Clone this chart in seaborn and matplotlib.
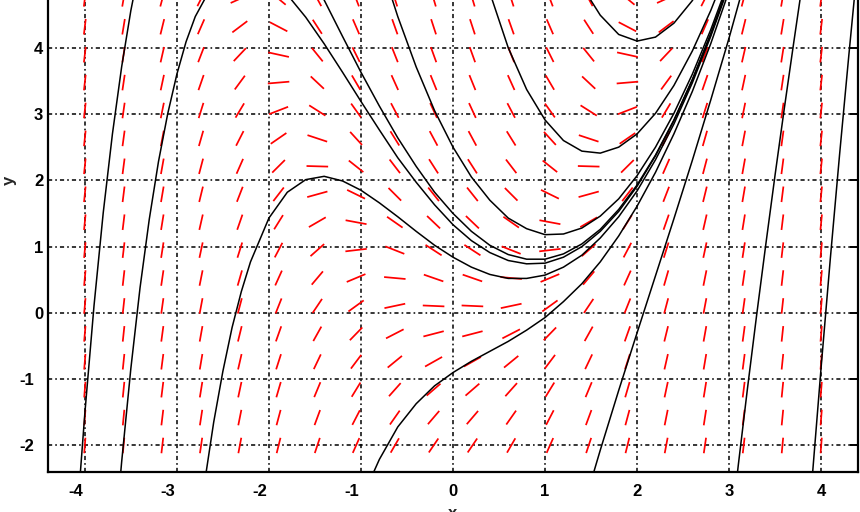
import numpy as np
import matplotlib
matplotlib.use("Agg")
import matplotlib.pyplot as plt
import seaborn as sns
from matplotlib.collections import LineCollection
from matplotlib.transforms import ScaledTranslation

## direction field for dy/dx = x^2 - y, sampled on a 20x20 grid
field_x = [-4.000, -3.579, -3.158, -2.737, -2.316, -1.895, -1.474, -1.053, -0.632, -0.211,
           0.211, 0.632, 1.053, 1.474, 1.895, 2.316, 2.737, 3.158, 3.579, 4.000]
field_y = [-2.000, -1.579, -1.158, -0.737, -0.316, 0.105, 0.526, 0.947, 1.368, 1.789,
           2.211, 2.632, 3.053, 3.474, 3.895, 4.316, 4.737, 5.158, 5.579, 6.000]

## solution curves
curve_a_x = [-4.06, -4.0, -3.9, -3.8, -3.7, -3.6, -3.5, -3.4, -3.0, -2.5, -2.0, -1.5, -1.4, -1.2,
             -1.0, -0.8, -0.6, -0.4, -0.2, 0.0, 0.2, 0.4, 0.6, 0.8, 1.0, 1.2, 1.4, 1.6, 1.8,
             2.0, 2.2, 2.4, 2.6, 2.8, 3.0]
curve_a_y = [-2.62, -1.52, 0.11, 1.51, 2.70, 3.71, 4.56, 5.26, 6.88, 7.11, 6.28, 4.99, 4.72, 4.17,
             3.63, 3.12, 2.64, 2.21, 1.82, 1.50, 1.23, 1.02, 0.88, 0.81, 0.81, 0.89, 1.04, 1.26, 1.56,
             1.93, 2.38, 2.91, 3.52, 4.21, 4.97]

curve_b_x = [-3.65, -3.6, -3.5, -3.4, -3.3, -3.2, -3.1, -3.0, -2.9, -2.8, -2.6, -2.4, -2.2, -2.0,
             -1.8, -1.6, -1.4, -1.2, -1.0, -0.8, -0.6, -0.4, -0.2, 0.0, 0.2, 0.4, 0.6, 0.8, 1.0,
             1.2, 1.4, 1.6, 1.8, 2.0, 2.2, 2.4, 2.6, 2.8, 3.0]
curve_b_y = [-3.04, -2.25, -0.84, 0.38, 1.41, 2.28, 3.00, 3.60, 4.09, 4.47, 4.98, 5.21, 5.22, 5.07,
             4.80, 4.46, 4.06, 3.63, 3.19, 2.76, 2.34, 1.97, 1.63, 1.33, 1.09, 0.91, 0.79, 0.74, 0.75,
             0.84, 1.00, 1.23, 1.53, 1.91, 2.37, 2.90, 3.51, 4.20, 4.97]

curve_c_x = [-2.75, -2.7, -2.6, -2.5, -2.4, -2.3, -2.2, -2.0, -1.8, -1.6, -1.4, -1.2, -1.0, -0.8,
             -0.6, -0.4, -0.2, 0.0, 0.2, 0.4, 0.6, 0.8, 1.0, 1.2, 1.4, 1.6, 1.8, 2.0, 2.2, 2.4,
             2.6, 2.8, 3.0]
curve_c_y = [-3.09, -2.57, -1.65, -0.88, -0.22, 0.32, 0.77, 1.43, 1.82, 2.01, 2.06, 1.99, 1.85, 1.66,
             1.45, 1.23, 1.02, 0.84, 0.69, 0.58, 0.52, 0.52, 0.57, 0.69, 0.87, 1.13, 1.45, 1.84, 2.31,
             2.85, 3.47, 4.17, 4.94]

curve_d_x = [-0.9, -0.8, -0.6, -0.4, -0.2, 0.0, 0.2, 0.4, 0.6, 0.8, 1.0, 1.2, 1.4, 1.6, 1.8, 2.0,
             2.2, 2.4, 2.6, 2.8, 3.0]
curve_d_y = [-2.52, -2.21, -1.72, -1.37, -1.10, -0.90, -0.73, -0.58, -0.43, -0.26, -0.07, 0.17, 0.44,
             0.77, 1.16, 1.61, 2.12, 2.70, 3.34, 4.06, 4.86]

curve_e_x = [-0.8, -0.7, -0.6, -0.4, -0.2, 0.0, 0.2, 0.4, 0.6, 0.8, 1.0, 1.2, 1.4, 1.6, 1.8, 2.0,
             2.2, 2.4, 2.6, 2.8, 3.0]
curve_e_y = [5.35, 4.90, 4.47, 3.71, 3.05, 2.50, 2.05, 1.70, 1.43, 1.27, 1.18, 1.19, 1.28, 1.46,
             1.72, 2.07, 2.50, 3.01, 3.60, 4.27, 5.02]

curve_f_x = [0.3, 0.4, 0.6, 0.8, 1.0, 1.2, 1.4, 1.6, 1.8, 2.0, 2.2, 2.4, 2.6, 2.8, 3.0]
curve_f_y = [5.33, 4.83, 4.00, 3.37, 2.91, 2.60, 2.44, 2.41, 2.50, 2.70, 3.01, 3.43, 3.95, 4.56, 5.26]

curve_g_x = [1.4, 1.5, 1.6, 1.8, 2.0, 2.2, 2.4, 2.6, 2.8]
curve_g_y = [4.98, 4.71, 4.49, 4.20, 4.10, 4.16, 4.37, 4.71, 5.18]

curve_h_x = [1.5, 1.6, 1.8, 2.0, 2.2, 2.4, 2.6, 2.8, 3.0, 3.2]
curve_h_y = [-2.54, -2.07, -1.17, -0.30, 0.56, 1.42, 2.30, 3.21, 4.15, 5.15]

curve_i_x = [3.05, 3.1, 3.2, 3.3, 3.4, 3.5, 3.6, 3.7, 3.8]
curve_i_y = [-2.90, -2.29, -1.13, -0.02, 1.05, 2.09, 3.09, 4.06, 5.01]

curve_j_x = [3.85, 3.9, 4.0, 4.1, 4.2, 4.3, 4.4]
curve_j_y = [-3.43, -2.53, -0.81, 0.83, 2.39, 3.88, 5.32]

curves = [(curve_a_x, curve_a_y), (curve_b_x, curve_b_y), (curve_c_x, curve_c_y),
          (curve_d_x, curve_d_y), (curve_e_x, curve_e_y), (curve_f_x, curve_f_y),
          (curve_g_x, curve_g_y), (curve_h_x, curve_h_y), (curve_i_x, curve_i_y),
          (curve_j_x, curve_j_y)]

x_ticks = [-4, -3, -2, -1, 0, 1, 2, 3, 4]
y_ticks = [-2, -1, 0, 1, 2, 3, 4, 5, 6]

sns.set_style("white")
plt.rcParams['font.family'] = ['Liberation Sans', 'DejaVu Sans']
plt.rcParams['axes.unicode_minus'] = False
plt.rcParams['lines.scale_dashes'] = False

fig = plt.figure(figsize=(8.6, 5.12), dpi=100)
## the picture is a crop: the top of the axes sits above the figure
ax = fig.add_axes([48/860., 40/512., 810/860., 583.4/512.])

## slope segments, centred on the grid points, same length everywhere
seg_len = 0.235
X, Y = np.meshgrid(field_x, field_y)
S = X**2 - Y
dx = 0.5*seg_len/np.sqrt(1 + S**2)
dy = S*dx
segs = np.stack([np.stack([X-dx, Y-dy], -1), np.stack([X+dx, Y+dy], -1)], -2).reshape(-1, 2, 2)
ax.add_collection(LineCollection(segs, colors='#ff0000', linewidths=1.25, zorder=2))

for cx, cy in curves:
    sns.lineplot(x=cx, y=cy, sort=False, estimator=None, color='black', linewidth=1.1, ax=ax, zorder=3)

ax.set_xlim(-4.4, 4.4)
ax.set_ylim(-2.4, 6.4)
ax.set_xticks(x_ticks)
ax.set_yticks(y_ticks)
ax.grid(True, color='black', linestyle=(0, (3.0, 2.2, 1.2, 2.2)), linewidth=1.1)
ax.set_axisbelow(True)

for sp in ax.spines.values():
    sp.set_linewidth(1.6)
    sp.set_color('black')
ax.tick_params(direction='in', top=True, right=True, length=5.5, width=1.4,
               labelsize=12, colors='black')
ax.tick_params(axis='x', pad=8.5)
ax.tick_params(axis='y', pad=3.5)
for lbl in ax.get_xticklabels() + ax.get_yticklabels():
    lbl.set_fontweight('bold')

## negative labels sit a little to the left of the positive ones
shift = ScaledTranslation(-0.09, 0, fig.dpi_scale_trans)
for v, t in zip(ax.get_xticks(), ax.xaxis.get_major_ticks()):
    if v < 0:
        t.label1.set_transform(t.label1.get_transform() + shift)
for v, t in zip(ax.get_yticks(), ax.yaxis.get_major_ticks()):
    if v < 0:
        t.label1.set_transform(t.label1.get_transform() + shift)

ax.set_xlabel('x', fontsize=12, fontweight='bold')
ax.set_ylabel('y', fontsize=12, fontweight='bold')
ax.xaxis.set_label_coords(0.5, -0.058)
ax.yaxis.set_label_coords(-0.038, 0.5)

fig.savefig('out.png', dpi=100)
